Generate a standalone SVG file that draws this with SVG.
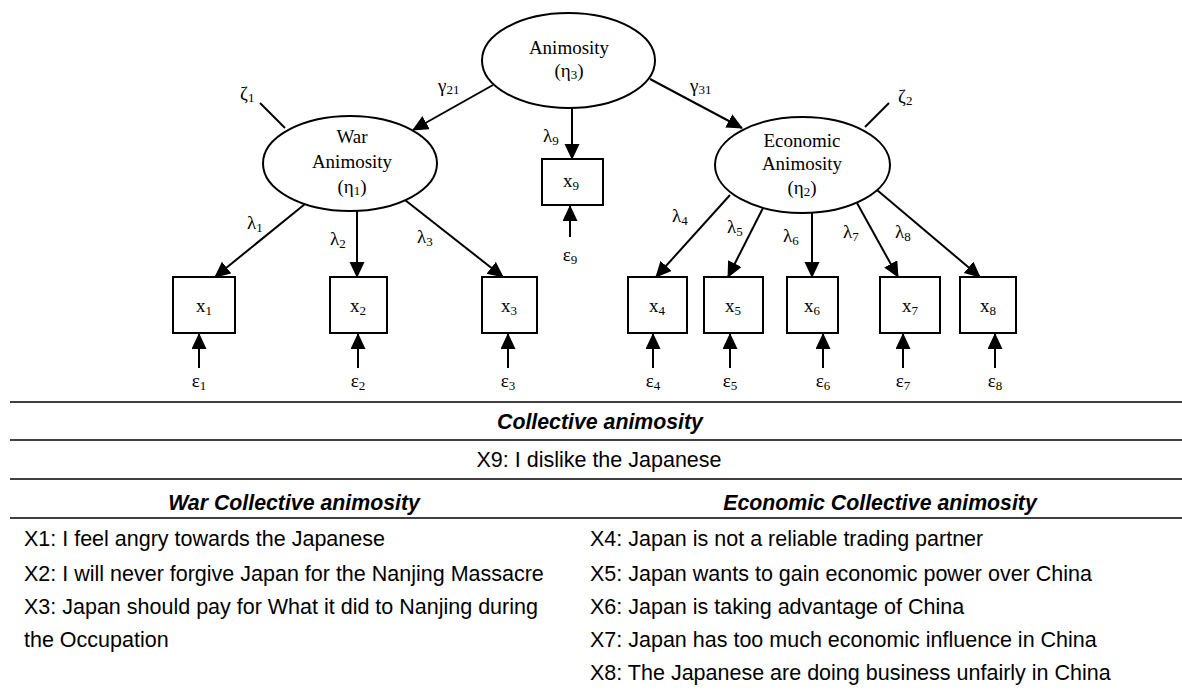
<svg xmlns="http://www.w3.org/2000/svg" width="1182" height="694" viewBox="0 0 1182 694">
<style>
.lat{fill:#fff;stroke:#000;stroke-width:2}
.obs{fill:#fff;stroke:#000;stroke-width:2}
.ser{font-family:"Liberation Serif","Times New Roman",serif;font-size:19px;fill:#000}
.lbl{font-family:"Liberation Serif","Times New Roman",serif;font-size:19px;fill:#000}
.sub{font-size:13px}
.arr{stroke:#000;stroke-width:2;fill:none;marker-end:url(#ah)}
.ln{stroke:#000;stroke-width:2;fill:none}
.rule{stroke:#000;stroke-width:1.6}
.hd{font-family:"Liberation Sans",Arial,sans-serif;font-size:21.3px;font-weight:bold;font-style:italic;fill:#000}
.tx{font-family:"Liberation Sans",Arial,sans-serif;font-size:21.5px;fill:#000}
</style>
<defs>
<marker id="ah" markerUnits="userSpaceOnUse" markerWidth="16" markerHeight="16" refX="15" refY="7.5" orient="auto">
<path d="M0,0 L16,7.5 L0,15 z" fill="#000"/>
</marker>
</defs>
<rect width="1182" height="694" fill="#fff"/>

<g id="connectors">
<line class="arr" x1="493" y1="85" x2="413" y2="130"/>
<line class="arr" x1="650" y1="79" x2="742" y2="128"/>
<line class="arr" x1="572" y1="108" x2="572" y2="159"/>
<line class="ln" x1="260" y1="103" x2="285" y2="128"/>
<line class="ln" x1="889" y1="103" x2="865" y2="127"/>
<line class="arr" x1="305" y1="204" x2="215" y2="277"/>
<line class="arr" x1="357" y1="211" x2="357" y2="277"/>
<line class="arr" x1="405" y1="200" x2="503" y2="277"/>
<line class="arr" x1="730" y1="195" x2="656" y2="277"/>
<line class="arr" x1="763" y1="208" x2="728" y2="277"/>
<line class="arr" x1="812" y1="213" x2="812" y2="277"/>
<line class="arr" x1="857" y1="203" x2="898" y2="277"/>
<line class="arr" x1="877" y1="190" x2="980" y2="277"/>
<line class="arr" x1="570" y1="237" x2="570" y2="206"/>
<line class="arr" x1="199" y1="368" x2="199" y2="334"/>
<line class="arr" x1="358" y1="368" x2="358" y2="334"/>
<line class="arr" x1="508" y1="368" x2="508" y2="334"/>
<line class="arr" x1="653" y1="368" x2="653" y2="334"/>
<line class="arr" x1="730" y1="368" x2="730" y2="334"/>
<line class="arr" x1="823" y1="368" x2="823" y2="334"/>
<line class="arr" x1="903" y1="368" x2="903" y2="334"/>
<line class="arr" x1="995" y1="368" x2="995" y2="334"/>
<text class="lbl" x="438" y="92">γ<tspan class="sub" dy="2">21</tspan></text>
<text class="lbl" x="690" y="92">γ<tspan class="sub" dy="2">31</tspan></text>
<text class="lbl" x="240" y="100">ζ<tspan class="sub" dy="2">1</tspan></text>
<text class="lbl" x="898" y="103">ζ<tspan class="sub" dy="2">2</tspan></text>
<text class="lbl" x="543" y="142">λ<tspan class="sub" dy="3">9</tspan></text>
<text class="lbl" x="247" y="229">λ<tspan class="sub" dy="3">1</tspan></text>
<text class="lbl" x="330" y="245">λ<tspan class="sub" dy="3">2</tspan></text>
<text class="lbl" x="417" y="243">λ<tspan class="sub" dy="3">3</tspan></text>
<text class="lbl" x="672" y="222">λ<tspan class="sub" dy="3">4</tspan></text>
<text class="lbl" x="727" y="233">λ<tspan class="sub" dy="3">5</tspan></text>
<text class="lbl" x="783" y="242">λ<tspan class="sub" dy="3">6</tspan></text>
<text class="lbl" x="843" y="238">λ<tspan class="sub" dy="3">7</tspan></text>
<text class="lbl" x="895" y="238">λ<tspan class="sub" dy="3">8</tspan></text>
<g text-anchor="middle">
<text class="lbl" x="570" y="261">ε<tspan class="sub" dy="3">9</tspan></text>
<text class="lbl" x="199" y="387">ε<tspan class="sub" dy="3">1</tspan></text>
<text class="lbl" x="358" y="387">ε<tspan class="sub" dy="3">2</tspan></text>
<text class="lbl" x="508" y="387">ε<tspan class="sub" dy="3">3</tspan></text>
<text class="lbl" x="653" y="387">ε<tspan class="sub" dy="3">4</tspan></text>
<text class="lbl" x="730" y="387">ε<tspan class="sub" dy="3">5</tspan></text>
<text class="lbl" x="823" y="387">ε<tspan class="sub" dy="3">6</tspan></text>
<text class="lbl" x="903" y="387">ε<tspan class="sub" dy="3">7</tspan></text>
<text class="lbl" x="995" y="387">ε<tspan class="sub" dy="3">8</tspan></text>
</g>
</g>

<g id="eta3">
<ellipse class="lat" cx="568.5" cy="60.5" rx="86.5" ry="47.5"/>
<text class="ser" x="569" y="54" text-anchor="middle">Animosity</text>
<text class="ser" x="569" y="77" text-anchor="middle">(η<tspan class="sub" dy="2">3</tspan><tspan dy="-2">)</tspan></text>
</g>
<g id="eta1">
<ellipse class="lat" cx="350" cy="163.5" rx="87" ry="47.5"/>
<text class="ser" x="352" y="143" text-anchor="middle">War</text>
<text class="ser" x="352" y="168" text-anchor="middle">Animosity</text>
<text class="ser" x="352" y="193" text-anchor="middle">(η<tspan class="sub" dy="2">1</tspan><tspan dy="-2">)</tspan></text>
</g>
<g id="eta2">
<ellipse class="lat" cx="802.5" cy="165" rx="87.5" ry="48"/>
<text class="ser" x="802" y="147" text-anchor="middle">Economic</text>
<text class="ser" x="802" y="170" text-anchor="middle">Animosity</text>
<text class="ser" x="802" y="194" text-anchor="middle">(η<tspan class="sub" dy="2">2</tspan><tspan dy="-2">)</tspan></text>
</g>

<g id="x9"><rect class="obs" x="542" y="159" width="61" height="46"/><text class="ser" x="571" y="187" text-anchor="middle">x<tspan class="sub" dy="3">9</tspan></text></g>
<g id="x1"><rect class="obs" x="173" y="277" width="62" height="56"/><text class="ser" x="204" y="312" text-anchor="middle">x<tspan class="sub" dy="3">1</tspan></text></g>
<g id="x2"><rect class="obs" x="330" y="277" width="57" height="56"/><text class="ser" x="358" y="312" text-anchor="middle">x<tspan class="sub" dy="3">2</tspan></text></g>
<g id="x3"><rect class="obs" x="482" y="277" width="55" height="56"/><text class="ser" x="509" y="312" text-anchor="middle">x<tspan class="sub" dy="3">3</tspan></text></g>
<g id="x4"><rect class="obs" x="628" y="277" width="59" height="56"/><text class="ser" x="657" y="312" text-anchor="middle">x<tspan class="sub" dy="3">4</tspan></text></g>
<g id="x5"><rect class="obs" x="704" y="277" width="59" height="56"/><text class="ser" x="733" y="312" text-anchor="middle">x<tspan class="sub" dy="3">5</tspan></text></g>
<g id="x6"><rect class="obs" x="787" y="277" width="51" height="56"/><text class="ser" x="812" y="312" text-anchor="middle">x<tspan class="sub" dy="3">6</tspan></text></g>
<g id="x7"><rect class="obs" x="880" y="277" width="60" height="56"/><text class="ser" x="910" y="312" text-anchor="middle">x<tspan class="sub" dy="3">7</tspan></text></g>
<g id="x8"><rect class="obs" x="960" y="277" width="56" height="56"/><text class="ser" x="988" y="312" text-anchor="middle">x<tspan class="sub" dy="3">8</tspan></text></g>

<g id="table">
<line class="rule" x1="10" y1="402" x2="1182" y2="402"/>
<line class="rule" x1="10" y1="440" x2="1182" y2="440"/>
<line class="rule" x1="10" y1="479" x2="1182" y2="479"/>
<line class="rule" x1="10" y1="518" x2="1182" y2="518"/>
<text class="hd" x="600" y="429" text-anchor="middle">Collective animosity</text>
<text class="tx" x="599" y="467" text-anchor="middle">X9: I dislike the Japanese</text>
<text class="hd" x="294" y="510" text-anchor="middle">War Collective animosity</text>
<text class="hd" x="880" y="510" text-anchor="middle">Economic Collective animosity</text>
<text class="tx" x="24" y="546">X1: I feel angry towards the Japanese</text>
<text class="tx" x="24" y="581">X2: I will never forgive Japan for the Nanjing Massacre</text>
<text class="tx" x="24" y="614">X3: Japan should pay for What it did to Nanjing during</text>
<text class="tx" x="24" y="647">the Occupation</text>
<text class="tx" x="590" y="546">X4: Japan is not a reliable trading partner</text>
<text class="tx" x="590" y="581">X5: Japan wants to gain economic power over China</text>
<text class="tx" x="590" y="614">X6: Japan is taking advantage of China</text>
<text class="tx" x="590" y="647">X7: Japan has too much economic influence in China</text>
<text class="tx" x="590" y="680">X8: The Japanese are doing business unfairly in China</text>
</g>
</svg>
